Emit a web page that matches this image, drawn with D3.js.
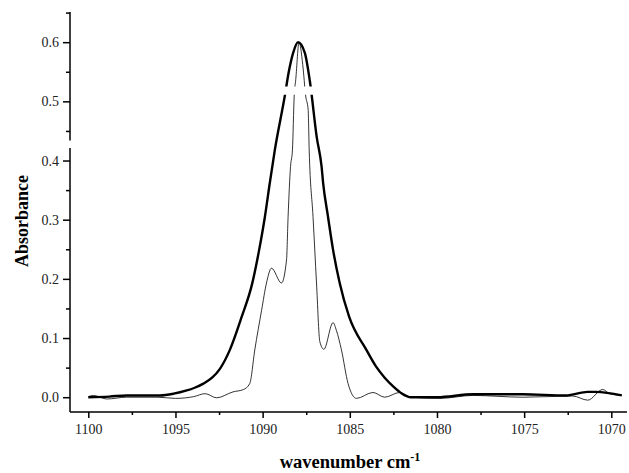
<!DOCTYPE html>
<html>
<head>
<meta charset="utf-8">
<script src="https://cdn.jsdelivr.net/npm/d3@7"></script>
<style>
  body { margin: 0; background: #fff; }
  text { font-family: "Liberation Serif", "Times New Roman", serif; }
</style>
</head>
<body>
<div id="chart"></div>
<script>
// IR absorbance band, two spectra (broad = thick, resolved = thin)
const broadX = [1100, 1098.8, 1097.8, 1095.9, 1095.1, 1094.4, 1093.9, 1093.4, 1092.9, 1092.45, 1091.88, 1091.2, 1090.6, 1090.2, 1089.87,
    1089.59, 1089.3, 1088.73, 1088.5, 1088.25, 1087.97, 1087.58, 1087.29, 1086.9, 1086.62, 1086.53, 1086.25,
    1085.96, 1085.58, 1085.04, 1084.05, 1083.5, 1083.0, 1082.5, 1082.0, 1081.5, 1080.0, 1077.9, 1075.1, 1072.6, 1071.35, 1070.86, 1069.4];
const broadY = [0.0, 0.001, 0.003, 0.003, 0.006, 0.011, 0.016, 0.023, 0.033, 0.048, 0.080, 0.136, 0.192, 0.249, 0.305,
    0.362, 0.418, 0.509, 0.55, 0.582, 0.600, 0.582, 0.534, 0.44, 0.390, 0.362, 0.305,
    0.249, 0.193, 0.136, 0.080, 0.052, 0.033, 0.018, 0.006, 0.0, 0.0, 0.005, 0.005, 0.003, 0.009, 0.009, 0.003];

const sharpX = [1100, 1099.7, 1098.95, 1097.8, 1096.0, 1095.0, 1093.95, 1093.3, 1092.64, 1091.7, 1091.1, 1090.74,
    1090.45, 1090.06, 1089.78, 1089.49, 1088.92, 1088.63, 1088.54, 1088.4, 1088.29, 1088.19, 1088.1, 1087.91,
    1087.7, 1087.53, 1087.39, 1087.33, 1087.11, 1086.91, 1086.72, 1086.49, 1085.96, 1085.77, 1085.48, 1085.1,
    1084.62, 1083.67, 1083.0, 1082.14, 1081.47, 1079.84, 1077.94, 1075.07, 1072.21, 1071.35, 1070.49, 1070.1, 1069.4];
const sharpY = [0.001, 0.003, -0.003, 0.0, 0.0, -0.002, 0.001, 0.006, -0.001, 0.009, 0.013, 0.023,
    0.080, 0.147, 0.193, 0.218, 0.193, 0.232, 0.305, 0.390, 0.418, 0.509, 0.537, 0.600,
    0.562, 0.509, 0.486, 0.418, 0.305, 0.193, 0.094, 0.081, 0.126, 0.113, 0.080, 0.023,
    -0.002, 0.008, 0.0, 0.008, 0.0, -0.002, 0.003, 0.0, 0.002, -0.005, 0.013, 0.006, 0.003];

const yMajor = [0, 0.1, 0.2, 0.3, 0.4, 0.5, 0.6];
const yMinor = [0.05, 0.15, 0.25, 0.35, 0.45, 0.55, 0.65];
const xMajor = [1100, 1095, 1090, 1085, 1080, 1075, 1070];
const xMinor = [1097.5, 1092.5, 1087.5, 1082.5, 1077.5, 1072.5];

// axis line break and the gap cut through the curves
const axisBreak = [0.421, 0.434];
const curveBreak = [0.511, 0.525];

const W = 629, H = 473;
const m = { left: 70, right: 627, top: 12, bottom: 412 };

const svg = d3.select('#chart').append('svg')
    .attr('width', W)
    .attr('height', H);

const x = d3.scaleLinear().domain([1101.05, 1069.1]).range([m.left, m.right]);
const y = d3.scaleLinear().domain([-0.025, 0.651]).range([m.bottom, m.top]);

// clip curves into two bands (leaves the small gap near the top)
const clip = svg.append('defs').append('clipPath').attr('id', 'plotclip');
clip.append('rect')
    .attr('x', m.left).attr('y', m.top - 5)
    .attr('width', m.right - m.left).attr('height', y(curveBreak[1]) - m.top + 5);
clip.append('rect')
    .attr('x', m.left).attr('y', y(curveBreak[0]))
    .attr('width', m.right - m.left).attr('height', m.bottom - y(curveBreak[0]));

const plot = svg.append('g').attr('clip-path', 'url(#plotclip)');

const line = d3.line()
    .x(d => x(d[0]))
    .y(d => y(d[1]))
    .curve(d3.curveMonotoneX);

plot.append('path')
    .datum(d3.zip(sharpX, sharpY))
    .attr('fill', 'none')
    .attr('stroke', '#000')
    .attr('stroke-width', 0.8)
    .attr('d', line);

plot.append('path')
    .datum(d3.zip(broadX, broadY))
    .attr('fill', 'none')
    .attr('stroke', '#000')
    .attr('stroke-width', 2.4)
    .attr('d', line);

// y axis
const yAxis = svg.append('g')
    .attr('transform', `translate(${m.left},0)`)
    .call(d3.axisLeft(y).tickValues(yMajor).tickFormat(d3.format('.1f')).tickSize(7).tickPadding(4));
yAxis.select('.domain').remove();
yAxis.selectAll('text').attr('font-size', 14).attr('fill', '#222');
yAxis.selectAll('line').attr('stroke-width', 1.5);

const yMinorAxis = svg.append('g')
    .attr('transform', `translate(${m.left},0)`)
    .call(d3.axisLeft(y).tickValues(yMinor).tickFormat('').tickSize(4));
yMinorAxis.select('.domain').remove();
yMinorAxis.selectAll('line').attr('stroke-width', 1.5);

// y axis line, in two pieces
svg.append('line')
    .attr('x1', m.left).attr('x2', m.left)
    .attr('y1', m.top).attr('y2', y(axisBreak[1]))
    .attr('stroke', '#000').attr('stroke-width', 1.5);
svg.append('line')
    .attr('x1', m.left).attr('x2', m.left)
    .attr('y1', y(axisBreak[0])).attr('y2', m.bottom)
    .attr('stroke', '#000').attr('stroke-width', 1.5);

// x axis
const xAxis = svg.append('g')
    .attr('transform', `translate(0,${m.bottom})`)
    .call(d3.axisBottom(x).tickValues(xMajor).tickFormat(d3.format('d')).tickSize(6).tickPadding(6));
xAxis.select('.domain').remove();
xAxis.selectAll('text').attr('font-size', 14).attr('fill', '#222');
xAxis.selectAll('line').attr('stroke-width', 1.5);

const xMinorAxis = svg.append('g')
    .attr('transform', `translate(0,${m.bottom})`)
    .call(d3.axisBottom(x).tickValues(xMinor).tickFormat('').tickSize(3));
xMinorAxis.select('.domain').remove();
xMinorAxis.selectAll('line').attr('stroke-width', 1.5);

svg.append('line')
    .attr('x1', m.left).attr('x2', m.right)
    .attr('y1', m.bottom).attr('y2', m.bottom)
    .attr('stroke', '#000').attr('stroke-width', 1.5);

// axis titles
svg.append('text')
    .attr('transform', 'translate(28,221) rotate(-90)')
    .attr('text-anchor', 'middle')
    .attr('font-size', 18)
    .attr('font-weight', 'bold')
    .text('Absorbance');

const xTitle = svg.append('text')
    .attr('x', 350)
    .attr('y', 468)
    .attr('text-anchor', 'middle')
    .attr('font-size', 18.5)
    .attr('font-weight', 'bold');
xTitle.append('tspan').text('wavenumber cm');
xTitle.append('tspan').attr('dy', -7).attr('font-size', 12).text('-1');
</script>
</body>
</html>
